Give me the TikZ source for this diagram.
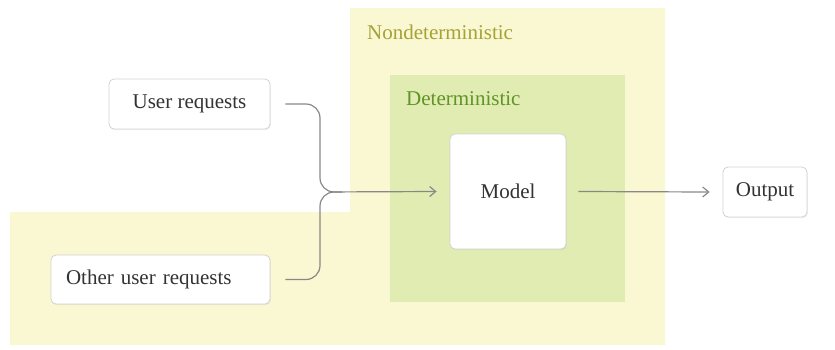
\documentclass[tikz,border=0pt]{standalone}
\usepackage{fontspec}
\setmainfont{Liberation Serif}
\usepackage{xcolor}
\definecolor{nondetFill}{HTML}{FAF7D3}
\definecolor{detFill}{HTML}{E1ECB3}
\definecolor{nondetText}{HTML}{A6A236}
\definecolor{detText}{HTML}{5F9427}
\definecolor{boxLine}{HTML}{D2D2D2}
\definecolor{inkGray}{HTML}{333333}
\definecolor{wireGray}{HTML}{888888}
\usepackage{tikz}
\usetikzlibrary{arrows.meta,shadows}

\tikzset{
  block/.style={draw=boxLine, line width=0.8pt, fill=white, rounded corners=5pt,
    drop shadow={opacity=0.12, shadow xshift=0.8pt, shadow yshift=-1.2pt},
    text=inkGray, font=\fontsize{21}{25}\selectfont, inner sep=0pt},
  wire/.style={draw=wireGray, line width=1.2pt, rounded corners=14pt},
  tip/.style={-{Straight Barb[length=6pt,width=10pt,line width=1.2pt]}},
  zonelabel/.style={anchor=west, font=\fontsize{21}{25}\selectfont, inner sep=0pt}
}

\begin{document}
\begin{tikzpicture}[x=1pt, y=-1pt]
  \useasboundingbox (0,0) rectangle (835,349);
  % shaded zones
  \fill[nondetFill] (10,212) -- (350,212) -- (350,8) -- (665,8) -- (665,345) -- (10,345) -- cycle;
  \fill[detFill] (390,75) rectangle (625,302);
  \node[zonelabel, text=nondetText] (nondet) at (367,32) {Nondeterministic};
  \node[zonelabel, text=detText] (det) at (406,99) {Deterministic};
  % boxes
  \node[block, minimum width=161pt, minimum height=50pt] (ureq) at (189.5,104) {User requests};
  \node[block, minimum width=219pt, minimum height=49pt, text width=189pt, align=left] (oreq) at (160.5,279.5) {Other user requests};
  \node[block, minimum width=116pt, minimum height=115pt] (model) at (508,191.5) {Model};
  \node[block, minimum width=84pt, minimum height=50pt] (out) at (765,192) {Output};
  % connectors
  \coordinate (fork) at (320,192);
  \draw[wire, tip] ([xshift=15pt]ureq.east) -| (fork) -- ([xshift=-13pt]model.west);
  \draw[wire] ([xshift=15pt]oreq.east) -| (fork) -- ++(22,0);
  \draw[wire, tip] ([xshift=12pt]model.east) -- ([xshift=-13pt]out.west);
\end{tikzpicture}
\end{document}
